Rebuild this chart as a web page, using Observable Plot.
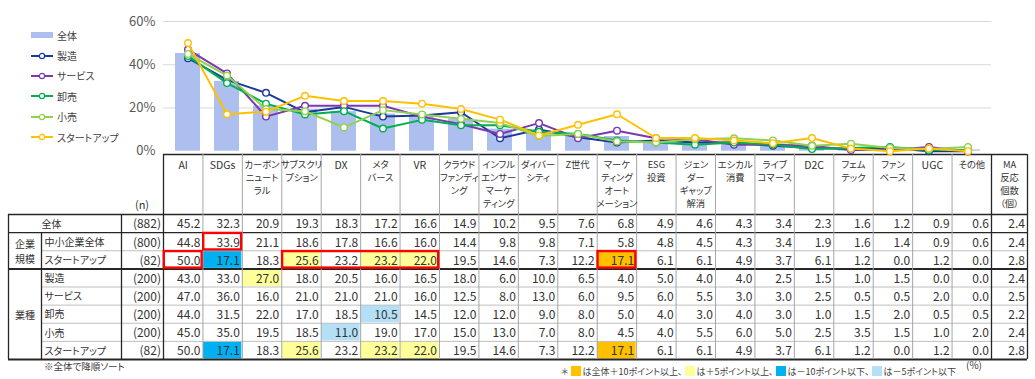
<!DOCTYPE html>
<html><head><meta charset="utf-8">
<script src="https://cdn.jsdelivr.net/npm/d3@7"></script>
<script src="https://cdn.jsdelivr.net/npm/@observablehq/plot@0.6"></script>
<style>
body{margin:0;background:#fff;}
#wrap{position:relative;width:1035px;height:379px;overflow:hidden;font-family:"Noto Sans CJK JP","Noto Sans",sans-serif;color:#333;}
#wrap svg{position:absolute;left:0;top:0;background:transparent;}
#wrap text{font-feature-settings:"palt";}
#legend{position:absolute;left:31px;top:25px;font-size:10px;color:#404040;font-feature-settings:"palt";}
#legend .it{display:flex;align-items:center;height:20.4px;}
#legend svg{position:static;margin-right:2px;}
.note{position:absolute;font-size:9px;color:#404040;font-feature-settings:"palt";white-space:nowrap;}
.sq{display:inline-block;width:10px;height:10px;vertical-align:-1px;margin:0 1px 0 3px;}
</style></head><body><div id="wrap"></div>
<script>
// ---- data ----
const categories = ["AI","SDGs","カーボンニュートラル","サブスクリプション","DX","メタバース","VR","クラウドファンディング","インフルエンサーマーケティング","ダイバーシティ","Z世代","マーケティングオートメーション","ESG投資","ジェンダーギャップ解消","エシカル消費","ライブコマース","D2C","フェムテック","ファンベース","UGC","その他"];
const headerLabels = ["AI","SDGs","カーボン\nニュート\nラル","サブスクリ\nプション","DX","メタ\nバース","VR","クラウド\nファンディ\nング","インフル\nエンサー\nマーケ\nティング","ダイバー\nシティ","Z世代","マーケ\nティング\nオート\nメーション","ESG\n投資","ジェン\nダー\nギャップ\n解消","エシカル\n消費","ライブ\nコマース","D2C","フェム\nテック","ファン\nベース","UGC","その他","MA\n反応\n個数\n（個）"];
const rowLabels = ["全体","中小企業全体","スタートアップ","製造","サービス","卸売","小売","スタートアップ"];
const rowN = ["(882)","(800)","(82)","(200)","(200)","(200)","(200)","(82)"];
const groupLabels = [{text:"企業\n規模", from:1, to:3},{text:"業種", from:3, to:8}];
// values per row: 21 categories + MA反応個数
const total     = [45.2,32.3,20.9,19.3,18.3,17.2,16.6,14.9,10.2,9.5,7.6,6.8,4.9,4.6,4.3,3.4,2.3,1.6,1.2,0.9,0.6,2.4];
const sme       = [44.8,33.9,21.1,18.6,17.8,16.6,16.0,14.4,9.8,9.8,7.1,5.8,4.8,4.5,4.3,3.4,1.9,1.6,1.4,0.9,0.6,2.4];
const startup   = [50.0,17.1,18.3,25.6,23.2,23.2,22.0,19.5,14.6,7.3,12.2,17.1,6.1,6.1,4.9,3.7,6.1,1.2,0.0,1.2,0.0,2.8];
const mfg       = [43.0,33.0,27.0,18.0,20.5,16.0,16.5,18.0,6.0,10.0,6.5,4.0,5.0,4.0,4.0,2.5,1.5,1.0,1.5,0.0,0.0,2.4];
const service   = [47.0,36.0,16.0,21.0,21.0,21.0,16.0,12.5,8.0,13.0,6.0,9.5,6.0,5.5,3.0,3.0,2.5,0.5,0.5,2.0,0.0,2.5];
const wholesale = [44.0,31.5,22.0,17.0,18.5,10.5,14.5,12.0,12.0,9.0,8.0,5.0,4.0,3.0,4.0,3.0,1.0,1.5,2.0,0.5,0.5,2.2];
const retail    = [45.0,35.0,19.5,18.5,11.0,19.0,17.0,15.0,13.0,7.0,8.0,4.5,4.0,5.5,6.0,5.0,2.5,3.5,1.5,1.0,2.0,2.4];
const tableRows = [total, sme, startup, mfg, service, wholesale, retail, startup];
const barName = "全体";
const seriesNames = ["製造","サービス","卸売","小売","スタートアップ"];
const seriesValues = [mfg, service, wholesale, retail, startup];
const yTicks = [0,20,40,60];
// manual red annotation boxes: row, first col, last col (exclusive)
const redBoxes = [{row:1,c1:1,c2:2},{row:2,c1:0,c2:1},{row:2,c1:3,c2:7},{row:2,c1:11,c2:12}];

// ---- styles ----
const barColor = "#adbfef";
const seriesColors = ["#1a3a9a","#7a3aae","#00b050","#92d050","#ffc000"];
const hlColors = {p10:"#ffc000", p5:"#ffff99", m10:"#00b0f0", m5:"#b3e0f7"};
const font = `"Noto Sans CJK JP","Noto Sans",sans-serif`;

// ---- layout ----
const X0 = 163, X1 = 991, nCat = categories.length, colW = (X1 - X0) / nCat;
const maEnd = 21 + 36 / colW;
const col = px => (px - X0) / colW; // pixel layout -> column units
const wrap = document.getElementById("wrap");

// ---- table ----
const cells = [];
tableRows.forEach((vals, r) => vals.forEach((v, c) => cells.push({r, c, v})));
const hl = cells.filter(d => d.r > 0 && d.c < nCat).map(d => {
  const diff = Math.round((d.v - total[d.c]) * 10) / 10;
  const k = diff >= 10 ? "p10" : diff >= 5 ? "p5" : diff <= -10 ? "m10" : diff <= -5 ? "m5" : null;
  return {...d, k};
}).filter(d => d.k);

const L = {left: col(8), grp: col(41), lab: col(121)};
const dark = "#262626", light = "#bfbfbf", mid = "#a6a6a6";
const hLines = [
  {y:0, x1:L.left, x2:maEnd, s:dark, w:1.3},
  {y:1, x1:L.left, x2:maEnd, s:dark, w:1.3},
  {y:2, x1:L.grp, x2:maEnd, s:light, w:1},
  {y:3, x1:L.left, x2:maEnd, s:dark, w:2},
  {y:4, x1:L.grp, x2:maEnd, s:light, w:1},
  {y:5, x1:L.grp, x2:maEnd, s:light, w:1},
  {y:6, x1:L.grp, x2:maEnd, s:light, w:1},
  {y:7, x1:L.grp, x2:maEnd, s:light, w:1},
  {y:8, x1:L.left, x2:maEnd, s:dark, w:2}
];
const hdrTop = -3.31;
const vLines = [
  {x:L.left, y1:0, y2:8, s:dark, w:1.3},
  {x:L.grp, y1:1, y2:8, s:dark, w:1.3},
  {x:L.lab, y1:0, y2:8, s:dark, w:1.3},
  {x:0, y1:hdrTop, y2:8, s:dark, w:1.3},
  ...d3.range(1, nCat).map(i => ({x:i, y1:hdrTop, y2:8, s:mid, w:1})),
  {x:nCat, y1:hdrTop, y2:8, s:dark, w:1.3},
  {x:maEnd, y1:hdrTop, y2:8, s:dark, w:1.3}
];
const isLatin = t => /^[A-Za-z0-9]+$/.test(t);
const headers = headerLabels.map((t, i) => ({t, x: i < nCat ? i + 0.5 : (21 + maEnd) / 2, fs: isLatin(t) ? 10.5 : 9.3}));
const xEnd = c => (c < nCat ? c + 1 : maEnd);

const table = Plot.plot({
  width:1035, height:379, margin:0,
  x:{type:"linear", domain:[0, nCat], range:[X0, X1], axis:null},
  y:{type:"linear", domain:[0, 8], range:[214, 359], axis:null},
  style:{fontFamily:font, color:"#333", background:"transparent"},
  marks:[
    Plot.rect(hl, {x1:"c", x2:d => d.c + 1, y1:"r", y2:d => d.r + 1, fill:d => hlColors[d.k], inset:0.5}),
    Plot.ruleY(hLines, {y:"y", x1:"x1", x2:"x2", stroke:"s", strokeWidth:"w"}),
    Plot.ruleY([hdrTop], {x1:0, x2:maEnd, stroke:dark, strokeWidth:1.3}),
    Plot.ruleX(vLines, {x:"x", y1:"y1", y2:"y2", stroke:"s", strokeWidth:"w"}),
    Plot.text(cells, {x:d => xEnd(d.c), y:d => d.r + 0.5, text:d => d.v.toFixed(1), textAnchor:"end", dx:-2.5, dy:1, fontSize:12, fill:"#333"}),
    Plot.text(headers, {x:"x", y:hdrTop + 0.22, text:"t", lineAnchor:"top", lineHeight:1.4, fontSize:"fs", fill:"#333"}),
    Plot.text(["(n)"], {x:col(141.5), y:-0.5, text:d => d, fontSize:11, fill:"#333"}),
    Plot.text(rowN, {x:0, y:(d, i) => i + 0.5, text:d => d, textAnchor:"end", dx:-2.5, dy:1, fontSize:12, fill:"#333"}),
    Plot.text(rowLabels.slice(1), {x:col(44), y:(d, i) => i + 1.5, text:d => d, textAnchor:"start", dy:1, fontSize:10, fill:"#333"}),
    Plot.text([rowLabels[0]], {x:col(51), y:0.5, text:d => d, dy:1, fontSize:10, fill:"#333"}),
    Plot.text(groupLabels, {x:(L.left + L.grp) / 2, y:d => (d.from + d.to) / 2, text:"text", lineHeight:1.5, fontSize:10, fill:"#333"}),
    Plot.rect(redBoxes, {x1:"c1", x2:"c2", y1:"row", y2:d => d.row + 1, fill:"none", stroke:"#ff0000", strokeWidth:2.4, inset:0.8})
  ]
});
wrap.appendChild(table);

// ---- chart ----
const barData = categories.map((c, i) => ({cat:c, v:total[i]}));
const chartMarks = [
  Plot.gridY(yTicks.slice(1), {stroke:"#d9d9d9", strokeOpacity:1}),
  Plot.barY(barData, {x:"cat", y:"v", fill:barColor})
];
seriesNames.forEach((name, s) => {
  const pts = categories.map((c, i) => ({series:name, cat:c, v:seriesValues[s][i]}));
  chartMarks.push(Plot.line(pts, {x:"cat", y:"v", stroke:seriesColors[s], strokeWidth:2}));
  chartMarks.push(Plot.dot(pts, {x:"cat", y:"v", stroke:seriesColors[s], fill:"white", r:3.3, strokeWidth:1.4}));
});
const chart = Plot.plot({
  width:1035, height:162, marginLeft:X0, marginRight:1035 - X1, marginTop:21, marginBottom:11.3,
  x:{domain:categories, paddingInner:0.36, paddingOuter:0.18, axis:null},
  y:{domain:[0, 60], ticks:yTicks, tickFormat:d => d + "%", tickSize:0, tickPadding:8, label:null},
  style:{fontFamily:font, fontSize:"13px", color:"#595959", background:"transparent"},
  marks:chartMarks
});
wrap.appendChild(chart);

// ---- legend ----
const legend = document.createElement("div");
legend.id = "legend";
const swBar = `<svg width="24" height="10"><rect x="0" y="2" width="22" height="6" fill="${barColor}"/></svg>`;
const swLine = c => `<svg width="24" height="10"><line x1="0" x2="22" y1="5" y2="5" stroke="${c}" stroke-width="2"/><circle cx="11" cy="5" r="2.6" fill="white" stroke="${c}" stroke-width="1.2"/></svg>`;
legend.innerHTML = `<div class="it">${swBar}${barName}</div>` +
  seriesNames.map((n, i) => `<div class="it">${swLine(seriesColors[i])}${n}</div>`).join("");
wrap.appendChild(legend);

// ---- notes ----
const n1 = document.createElement("div");
n1.className = "note"; n1.style.left = "44px"; n1.style.top = "359px"; n1.style.fontSize = "9.5px";
n1.textContent = "※全体で降順ソート";
wrap.appendChild(n1);
const n2 = document.createElement("div");
n2.className = "note"; n2.style.left = "561px"; n2.style.top = "365px";
n2.innerHTML = `＊<span class="sq" style="background:${hlColors.p10}"></span>は全体＋10ポイント以上、<span class="sq" style="background:${hlColors.p5}"></span>は＋5ポイント以上、<span class="sq" style="background:${hlColors.m10}"></span>は－10ポイント以下、<span class="sq" style="background:${hlColors.m5}"></span>は－5ポイント以下`;
wrap.appendChild(n2);
const n3 = document.createElement("div");
n3.className = "note"; n3.style.left = "966px"; n3.style.top = "357px"; n3.style.fontSize = "10px";
n3.textContent = "(%)";
wrap.appendChild(n3);
</script></body></html>
